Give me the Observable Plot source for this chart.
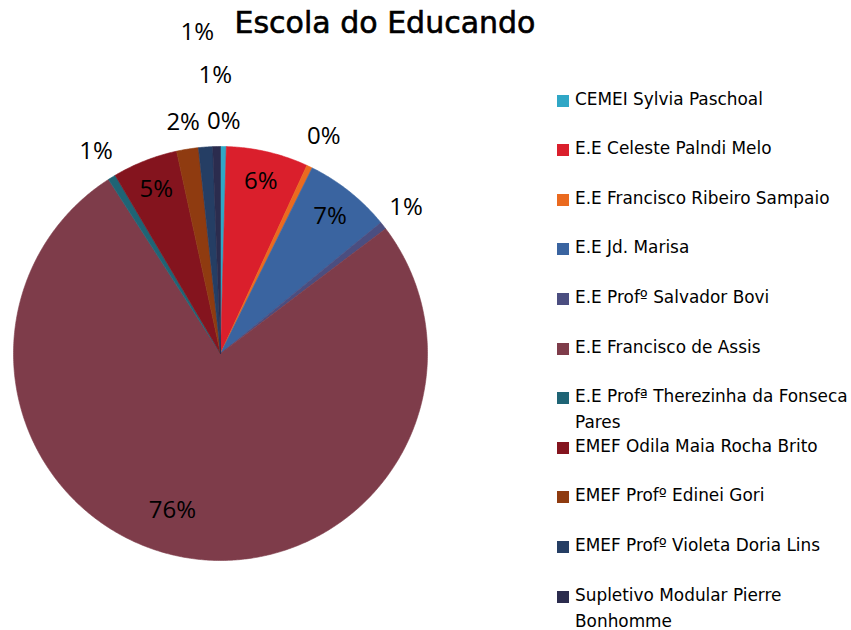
<!DOCTYPE html>
<html><head><meta charset="utf-8">
<script src="https://cdn.jsdelivr.net/npm/d3@7"></script>
<script src="https://cdn.jsdelivr.net/npm/@observablehq/plot@0.6"></script>
<style>
body{margin:0;background:#fff;}
#wrap{position:relative;width:851px;height:630px;overflow:hidden;background:#fff;}
#title{position:absolute;left:0;width:770px;top:6px;text-align:center;font-family:"DejaVu Sans";font-size:30px;line-height:34px;color:#000;white-space:nowrap;-webkit-text-stroke:0.6px #000;}
#chart{position:absolute;left:0;top:0;}
.item{position:absolute;left:557px;width:294px;font-family:"DejaVu Sans";font-size:16.9px;line-height:26px;color:#000;}
.item .sw{position:absolute;left:0;top:9px;width:12px;height:12px;}
.item .tx{margin-left:18px;}
</style></head><body>
<div id="wrap"><div id="chart"></div><div id="title">Escola do Educando</div><div id="legend"></div></div>
<script>
// Data (percent share of students by school, clockwise from 12 o'clock)
const schools = [
  "CEMEI Sylvia Paschoal",
  "E.E Celeste Palndi Melo",
  "E.E Francisco Ribeiro Sampaio",
  "E.E Jd. Marisa",
  "E.E Profº Salvador Bovi",
  "E.E Francisco de Assis",
  "E.E Profª Therezinha da Fonseca Pares",
  "EMEF Odila Maia Rocha Brito",
  "EMEF Profº Edinei Gori",
  "EMEF Profº Violeta Doria Lins",
  "Supletivo Modular Pierre Bonhomme"
];
const shares = [0.45, 6.4, 0.45, 6.8, 0.6, 76.2, 0.6, 5.1, 1.7, 1.1, 0.6];
const colors = ["#30A7C6", "#DA1F2C", "#EA6A1F", "#3A64A0", "#4B4E80", "#7E3C4A", "#1F6475", "#84141E", "#8F3B10", "#253E64", "#2B2C4E"];

// Layout (label placement relative to pie radius)
const labelRadius = [1.12, 0.855, 1.16, 0.85, 1.14, 0.79, 1.145, 0.85, 1.13, 1.555, 1.343];
const labelTurn = [0, 0, 0, 0, 0, 7, 0, 0, 0, 0, 0];
const W = 851, H = 630, cx = 220, cy = 353, R = 207;

const total = d3.sum(shares);
let acc = 0;
const slices = schools.map((name, i) => {
  const a0 = acc / total * 2 * Math.PI; acc += shares[i];
  const a1 = acc / total * 2 * Math.PI;
  return {name, i, a0, a1, value: shares[i]};
});
const pts = [];
for (const s of slices) {
  pts.push({name: s.name, x: 0, y: 0});
  const n = Math.max(2, Math.ceil((s.a1 - s.a0) / (Math.PI / 360)));
  for (let k = 0; k <= n; k++) {
    const a = s.a0 + (s.a1 - s.a0) * k / n;
    pts.push({name: s.name, x: Math.sin(a), y: Math.cos(a)});
  }
  pts.push({name: s.name, x: 0, y: 0});
}
const labels = slices.map(s => {
  const a = (s.a0 + s.a1) / 2 + labelTurn[s.i] * Math.PI / 180;
  const r = labelRadius[s.i];
  return {x: r * Math.sin(a), y: r * Math.cos(a), text: Math.round(s.value / total * 100) + "%"};
});

const chart = Plot.plot({
  width: W, height: H, margin: 0,
  x: {domain: [-cx / R, (W - cx) / R], range: [0, W], axis: null},
  y: {domain: [-(H - cy) / R, cy / R], range: [H, 0], axis: null},
  color: {domain: schools, range: colors},
  style: {background: "transparent"},
  marks: [
    Plot.line(pts, {x: "x", y: "y", z: "name", fill: "name", stroke: "name", strokeWidth: 0.6, curve: "linear"}),
    Plot.text(labels, {x: "x", y: "y", text: "text", fontSize: 24, fontFamily: "Open Sans", fill: "#000"})
  ]
});
document.getElementById("chart").appendChild(chart);

const legend = document.getElementById("legend");
schools.forEach((name, i) => {
  const yc = 100.5 + i * 49.6;
  const d = document.createElement("div");
  d.className = "item";
  d.style.top = (yc - 15) + "px";
  d.innerHTML = `<div class="sw" style="background:${colors[i]}"></div><div class="tx">${name}</div>`;
  legend.appendChild(d);
});
</script>
</body></html>
